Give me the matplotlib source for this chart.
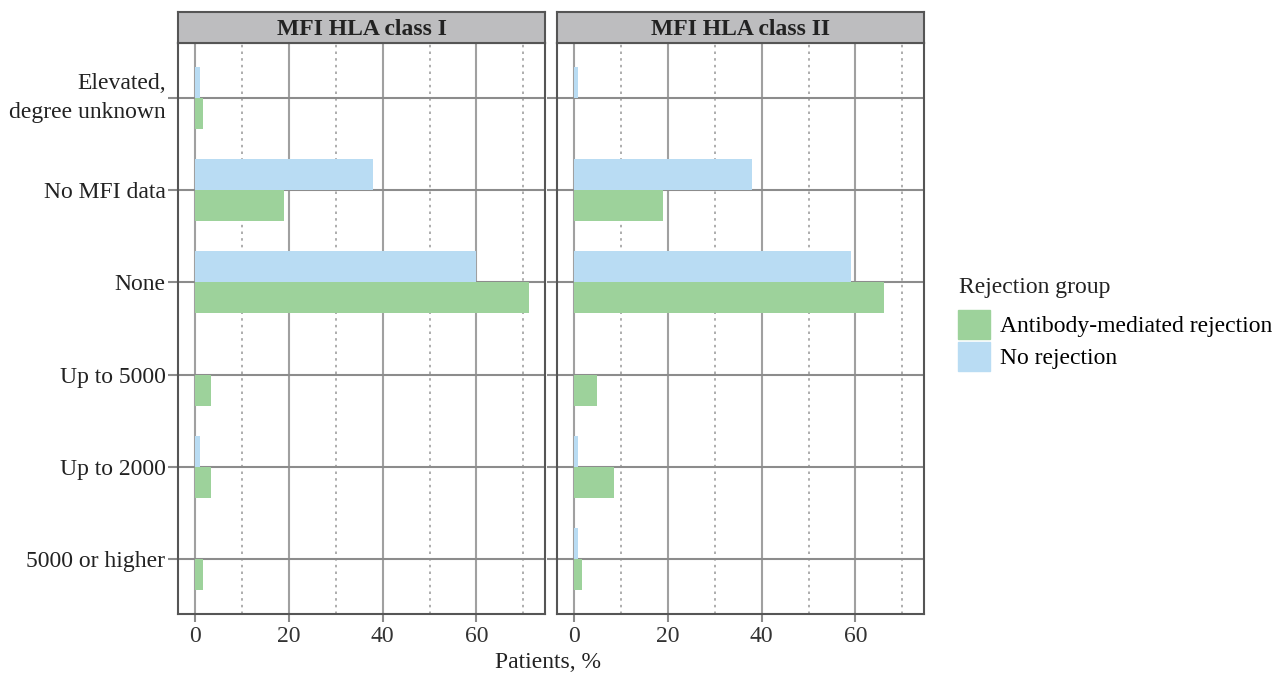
import numpy as np
import matplotlib.pyplot as plt
from matplotlib.patches import Patch

plt.rcParams['font.family'] = ['Liberation Serif', 'DejaVu Serif']

# categories, top to bottom
categories = ['Elevated,\ndegree unknown', 'No MFI data', 'None', 'Up to 5000', 'Up to 2000', '5000 or higher']
panels = ['MFI HLA class I', 'MFI HLA class II']

# percent of patients
amr_class1 = [1.8, 18.9, 71.1, 3.4, 3.4, 1.8]
norej_class1 = [1.1, 37.9, 60.0, 0.0, 1.1, 0.0]
amr_class2 = [0.0, 18.9, 66.0, 4.9, 8.5, 1.7]
norej_class2 = [0.9, 37.9, 59.0, 0.0, 0.9, 0.9]

green = '#9dd29b'
blue = '#b9dcf3'
W, H = 1288, 674

fig = plt.figure(figsize=(W / 100, H / 100), dpi=100)

def px_axes(left, right, top, bottom):
    return fig.add_axes([left / W, (H - bottom) / H, (right - left) / W, (bottom - top) / H])

ypos = np.arange(len(categories))[::-1] + 1
bh = 0.337
xlim = (-3.6, 74.6)
fs = 17

for i, (title, amr, norej) in enumerate(zip(panels, [amr_class1, amr_class2], [norej_class1, norej_class2])):
    left = 178 + i * 379
    right = left + 367
    ax = px_axes(left, right, 43, 614)
    ax.set_xlim(*xlim)
    ax.set_ylim(0.4, len(categories) + 0.6)
    for x in [10, 30, 50, 70]:
        ax.axvline(x, color='#a0a0a0', lw=1.2, ls=(0, (1.5, 2.5)), zorder=0)
    for x in [0, 20, 40, 60]:
        ax.axvline(x, color='#a0a0a0', lw=1.5, zorder=0)
    for y in ypos:
        ax.axhline(y, color='#8c8c8c', lw=1.5, zorder=0)
    ax.barh(ypos + bh / 2, norej, height=bh, color=blue, zorder=2)
    ax.barh(ypos - bh / 2, amr, height=bh, color=green, zorder=2)
    ax.set_xticks([0, 20, 40, 60])
    ax.set_yticks(ypos)
    if i == 0:
        labels = ax.set_yticklabels(categories, fontsize=fs, color='#222222', linespacing=1.5)
        labels[0].set_va('center')
    else:
        ax.set_yticklabels([])
    ax.tick_params(axis='x', labelsize=fs, colors='#8c8c8c', labelcolor='#333333', length=6, width=1.5, pad=3)
    ax.tick_params(axis='y', colors='#8c8c8c', labelcolor='#222222', length=7, width=1.5, pad=2)
    for s in ax.spines.values():
        s.set_color('#555555')
        s.set_linewidth(1.5)
    strip = px_axes(left, right, 12, 43)
    strip.set_facecolor('#bdbdbf')
    strip.set_xticks([])
    strip.set_yticks([])
    for s in strip.spines.values():
        s.set_color('#555555')
        s.set_linewidth(1.5)
    strip.text(0.5, 0.45, title, ha='center', va='center', fontsize=fs, fontweight='bold',
               color='#222222', transform=strip.transAxes)

fig.text(548 / W, 1 - 662 / H, 'Patients, %', ha='center', va='center', fontsize=fs, color='#222222')

# legend title drawn separately so the gap to the keys matches
fig.text(959 / W, 1 - 288 / H, 'Rejection group', ha='left', va='center', fontsize=fs, color='#222222')
handles = [Patch(color=green, label='Antibody-mediated rejection'), Patch(color=blue, label='No rejection')]
leg = fig.legend(handles=handles, loc='upper left', bbox_to_anchor=(951 / W, 1 - 303 / H),
                 frameon=False, fontsize=fs,
                 handlelength=1.35, handleheight=1.51, handletextpad=0.42, labelspacing=0.13,
                 borderpad=0.3, borderaxespad=0)

fig.savefig('out.png', dpi=100)
